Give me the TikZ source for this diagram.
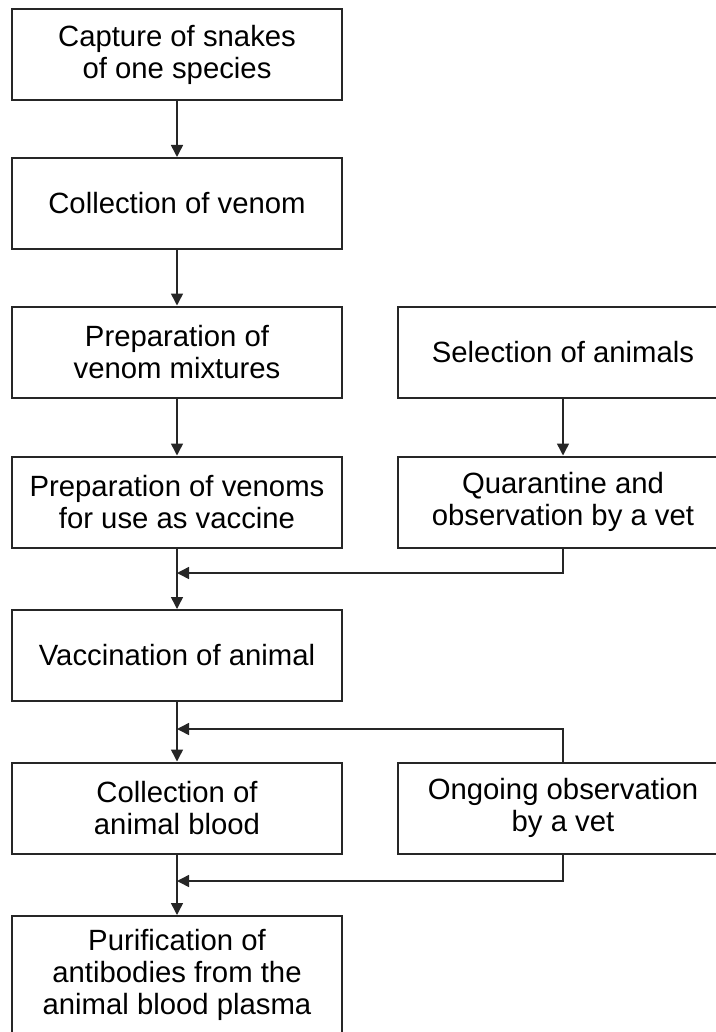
\documentclass[tikz,border=0pt]{standalone}
\usepackage{fontspec}
\setmainfont{Liberation Sans}
\usetikzlibrary{arrows.meta,positioning,calc}

\begin{document}
\begin{tikzpicture}[x=0.5pt,y=-0.5pt,
    box/.style={draw=black!85, line width=1pt, rectangle, minimum width=165pt, minimum height=45.5pt,
        inner sep=0pt, align=center, font=\fontsize{14.65pt}{16pt}\selectfont},
    arr/.style={-{Triangle[length=6pt,width=6pt]}, line width=0.75pt, draw=black!85}]
    \useasboundingbox (0,0) rectangle (716,1032);

    % Left column
    \node[box] (cap) at (177,54.5) {Capture of snakes\\of one species};
    \node[box] (coll) at (177,203.5) {Collection of venom};
    \node[box] (mix) at (177,352) {Preparation of\\venom mixtures};
    \node[box] (prep) at (177,502) {Preparation of venoms\\for use as vaccine};
    \node[box] (vac) at (177,655.5) {Vaccination of animal};
    \node[box] (blood) at (177,808) {Collection of\\animal blood};
    \node[box, minimum height=59pt] (puri) at (177,975) {Purification of\\antibodies from the\\animal blood plasma};

    % Right column
    \node[box] (sel) at (563,352) {Selection of animals};
    \node[box] (quar) at (563,502) {Quarantine and\\observation by a vet};
    \node[box] (obs) at (563,808) {Ongoing observation\\by a vet};

    % Joins
    \coordinate (j1) at (177,573);
    \coordinate (j2) at (177,729);
    \coordinate (j3) at (177,881);

    \draw[arr] (cap) -- (coll);
    \draw[arr] (coll) -- (mix);
    \draw[arr] (mix) -- (prep);
    \draw[arr] (sel) -- (quar);
    \draw[arr] (prep) -- (vac);
    \draw[arr] (quar.south) |- (j1);
    \draw[arr] (vac) -- (blood);
    \draw[arr] (obs.north) |- (j2);
    \draw[arr] (blood) -- (puri);
    \draw[arr] (obs.south) |- (j3);
\end{tikzpicture}
\end{document}
